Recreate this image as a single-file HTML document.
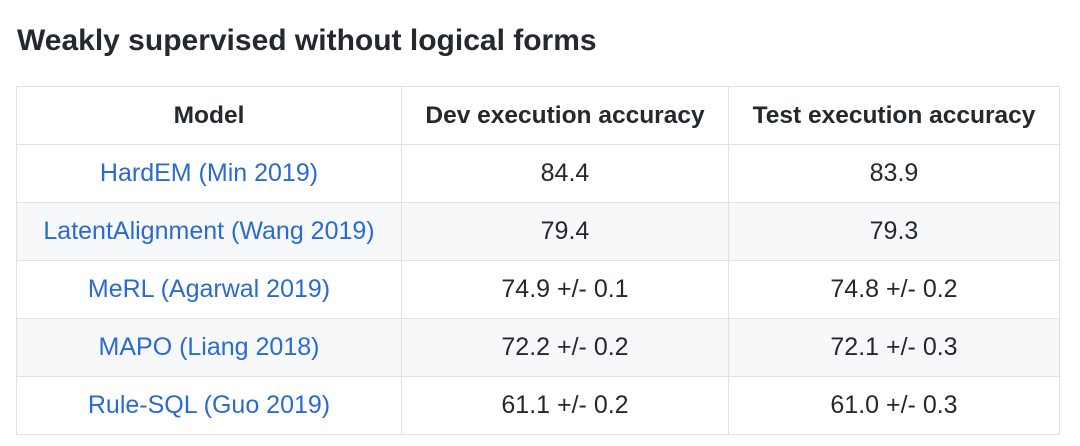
<!DOCTYPE html>
<html><head><meta charset="utf-8"><style>
html,body{margin:0;padding:0;background:#fff;width:1080px;height:446px;overflow:hidden;font-family:"Liberation Sans",sans-serif;color:#24292e}
h3{position:absolute;left:17px;top:21px;margin:0;font-size:30px;font-weight:bold;line-height:40px}
table{position:absolute;left:16px;top:86px;border-collapse:collapse;table-layout:fixed}
tr{height:58px}
td,th{border:1.5px solid #dfe2e5;text-align:center;font-size:25px;padding:0}
th{font-weight:bold;font-size:24.5px}
tr.alt td{background:#f6f8fa}
a{color:#2a6ad3;text-decoration:none}
</style></head><body>
<h3>Weakly supervised without logical forms</h3>
<table>
<colgroup><col style="width:385px"><col style="width:327px"><col style="width:331px"></colgroup>
<tr><th>Model</th><th>Dev execution accuracy</th><th>Test execution accuracy</th></tr>
<tr><td><a href="#">HardEM (Min 2019)</a></td><td>84.4</td><td>83.9</td></tr>
<tr class="alt"><td><a href="#">LatentAlignment (Wang 2019)</a></td><td>79.4</td><td>79.3</td></tr>
<tr><td><a href="#">MeRL (Agarwal 2019)</a></td><td>74.9 +/- 0.1</td><td>74.8 +/- 0.2</td></tr>
<tr class="alt"><td><a href="#">MAPO (Liang 2018)</a></td><td>72.2 +/- 0.2</td><td>72.1 +/- 0.3</td></tr>
<tr><td><a href="#">Rule-SQL (Guo 2019)</a></td><td>61.1 +/- 0.2</td><td>61.0 +/- 0.3</td></tr>
</table>
</body></html>
